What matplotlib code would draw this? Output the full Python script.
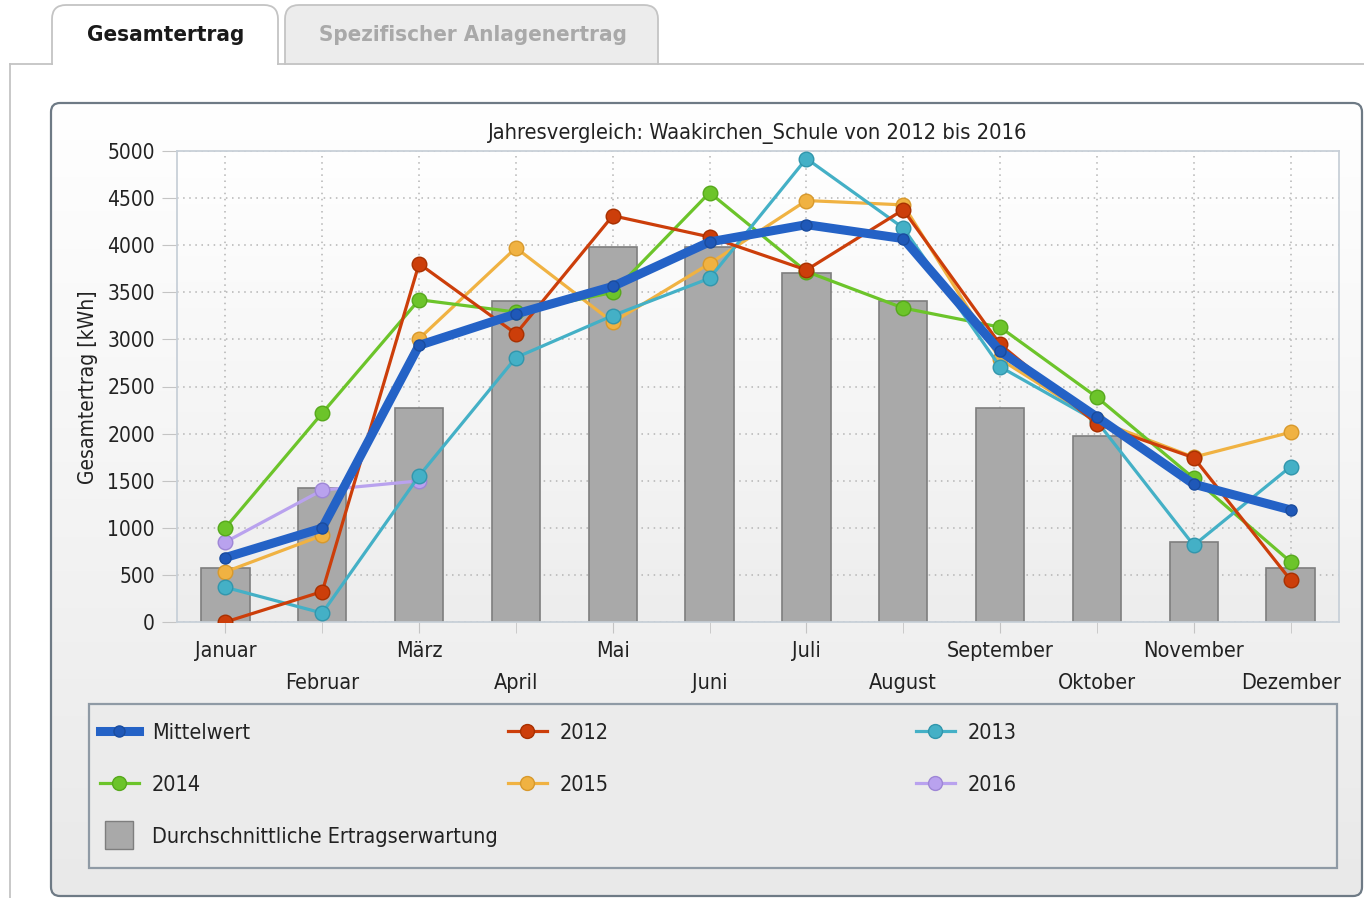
import matplotlib
matplotlib.use("Agg")
import matplotlib.pyplot as plt
import numpy as np
from matplotlib.patches import FancyBboxPatch, Rectangle
from matplotlib.lines import Line2D
from matplotlib.colors import LinearSegmentedColormap

plt.rcParams['font.family'] = 'DejaVu Sans'
plt.rcParams['font.stretch'] = 'condensed'

# data (kWh per month)
months = ['Januar', 'Februar', 'März', 'April', 'Mai', 'Juni', 'Juli',
          'August', 'September', 'Oktober', 'November', 'Dezember']
expected = [574, 1426, 2277, 3404, 3979, 3979, 3702, 3404, 2277, 1979, 851, 574]
mean = [684, 997, 2937, 3270, 3562, 4035, 4218, 4070, 2874, 2176, 1463, 1190]
y2012 = [0, 323, 3804, 3060, 4313, 4088, 3737, 4376, 2948, 2102, 1744, 446]
y2013 = [368, 95, 1551, 2807, 3253, 3649, 4920, 4183, 2709, 2130, 814, 1649]
y2014 = [1000, 2218, 3421, 3290, 3498, 4558, 3720, 3333, 3130, 2386, 1526, 639]
y2015 = [533, 919, 3007, 3972, 3183, 3804, 4474, 4428, 2790, 2140, 1750, 2014]
y2016 = [849, 1400, 1498]

title = 'Jahresvergleich: Waakirchen_Schule von 2012 bis 2016'

c_mean = '#2462c6'
c2012 = '#cc3e0a'
c2013 = '#44b0c6'
c2014 = '#6cc42a'
c2015 = '#f0b242'
c2016 = '#b9a2ee'
c_bar = '#a9a9a9'

W, H = 1364, 898
fig = plt.figure(figsize=(W / 100, H / 100), dpi=100)
fig.patch.set_facecolor('white')

# page background drawn in pixel coordinates
bg = fig.add_axes([0, 0, 1, 1])
bg.set_xlim(0, W)
bg.set_ylim(H, 0)
bg.axis('off')

tab2 = FancyBboxPatch((285, 5), 373, 75, boxstyle='round,pad=0,rounding_size=14',
                      fc='#ececec', ec='#c4c4c4', lw=1.3)
tab1 = FancyBboxPatch((52, 5), 226, 75, boxstyle='round,pad=0,rounding_size=14',
                      fc='white', ec='#c4c4c4', lw=1.3)
bg.add_patch(tab2)
bg.add_patch(tab1)
bg.add_patch(Rectangle((0, 64.8), W, 30, fc='white', ec='none', zorder=3))
bg.plot([10, 52], [64, 64], color='#c4c4c4', lw=1.3, zorder=4)
bg.plot([278, W], [64, 64], color='#c4c4c4', lw=1.3, zorder=4)
bg.plot([10, 10], [64, H], color='#c4c4c4', lw=1.3, zorder=4)
bg.text(166, 35, 'Gesamtertrag', ha='center', va='center', fontsize=16,
        fontweight='bold', color='#1a1a1a')
bg.text(473, 35, 'Spezifischer Anlagenertrag', ha='center', va='center', fontsize=16,
        fontweight='bold', color='#a9a9a9')

panel = FancyBboxPatch((51, 103), 1311, 793, boxstyle='round,pad=0,rounding_size=9',
                       fc='none', ec='#6e7a85', lw=1.6, zorder=6)
bg.add_patch(panel)
grad_cmap = LinearSegmentedColormap.from_list('g', ['#ffffff', '#e9e9e9'])
img = bg.imshow(np.linspace(0, 1, 256).reshape(-1, 1), cmap=grad_cmap, aspect='auto',
                extent=(51, 1362, 896, 103), zorder=5)
img.set_clip_path(panel)

bg.add_patch(Rectangle((89, 704), 1248, 164, fc='#ebebeb', ec='#8f9aa5', lw=1.6, zorder=7))

# chart
ax = fig.add_axes([177 / W, 1 - 622 / H, (1339 - 177) / W, (622 - 151) / H])
ax.patch.set_alpha(0)
x = np.arange(len(months))
ax.imshow(np.linspace(0, 1, 256).reshape(-1, 1),
          cmap=LinearSegmentedColormap.from_list('a', ['#ffffff', '#ededed']),
          aspect='auto', extent=(-0.5, 11.5, 0, 5000), zorder=0)

ax.bar(x, expected, width=0.5, color=c_bar, edgecolor='#7e7e7e', lw=1.2, zorder=2)


def series(vals, color, edge, lw=2.3, ms=10.5):
    xs = x[:len(vals)]
    ax.plot(xs, vals, color=color, lw=lw, marker='o', ms=ms, mfc=color,
            mec=edge, mew=1, zorder=3)


series(y2016, c2016, '#9e86d6')
series(y2015, c2015, '#d8992c')
series(y2014, c2014, '#56a81c')
series(y2013, c2013, '#3196ac')
series(y2012, c2012, '#a83000')
ax.plot(x, mean, color=c_mean, lw=6.5, marker='o', ms=8, mfc='#1f58b8',
        mec='#1a4c9e', mew=1, solid_capstyle='round', zorder=4)

ax.set_xlim(-0.5, 11.5)
ax.set_ylim(0, 5000)
ax.set_yticks(range(0, 5001, 500))
ax.set_xticks(x[0::2])
ax.set_xticklabels(months[0::2])
ax.set_xticks(x[1::2], minor=True)
ax.set_xticklabels(months[1::2], minor=True)

grid_kw = dict(color='#b4b4b4', lw=1.1, ls=(0, (1, 3)))
ax.xaxis.grid(True, which='both', **grid_kw)
ax.yaxis.grid(True, which='major', **grid_kw)
ax.set_axisbelow(True)

ax.tick_params(axis='x', which='major', length=8, pad=6, color='#c4c4c4',
               labelsize=15.5, labelcolor='#222222')
ax.tick_params(axis='x', which='minor', length=8, pad=28.5, color='#c4c4c4',
               labelsize=15.5, labelcolor='#222222')
ax.tick_params(axis='y', length=11, pad=5, color='#c4c4c4',
               labelsize=15, labelcolor='#222222')
for sp in ax.spines.values():
    sp.set_color('#c8d0d8')
    sp.set_linewidth(1.3)

fig.text(758 / W, 1 - 133 / H, title, ha='center', va='center', fontsize=15.7, color='#222222')
fig.text(88 / W, 1 - 387 / H, 'Gesamtertrag [kWh]', rotation=90, ha='center',
         va='center', fontsize=15, color='#222222')

# legend, one entry per slot
def handle(color, edge, lw=2.3, ms=10):
    return Line2D([], [], color=color, lw=lw, marker='o', ms=ms, mfc=color, mec=edge)


entries = [
    (Line2D([], [], color=c_mean, lw=6.5, marker='o', ms=8, mfc='#1f58b8', mec='#1a4c9e'),
     'Mittelwert', 100, 733),
    (handle(c2012, '#a83000'), '2012', 508, 733),
    (handle(c2013, '#3196ac'), '2013', 916, 733),
    (handle(c2014, '#56a81c'), '2014', 100, 785),
    (handle(c2015, '#d8992c'), '2015', 508, 785),
    (handle(c2016, '#9e86d6'), '2016', 916, 785),
    (Line2D([], [], ls='none', marker='s', ms=20, mfc=c_bar, mec='#7e7e7e'),
     'Durchschnittliche Ertragserwartung', 100, 837),
]
for h, lab, px, py in entries:
    leg = fig.legend([h], [lab], loc='center left', bbox_to_anchor=(px / W, 1 - py / H),
                     frameon=False, borderpad=0, borderaxespad=0, handlelength=1.8,
                     handletextpad=0.6, fontsize=15.5, numpoints=1)
    leg.set_zorder(10)
    for t in leg.get_texts():
        t.set_color('#222222')

fig.savefig('out.png', dpi=100)
